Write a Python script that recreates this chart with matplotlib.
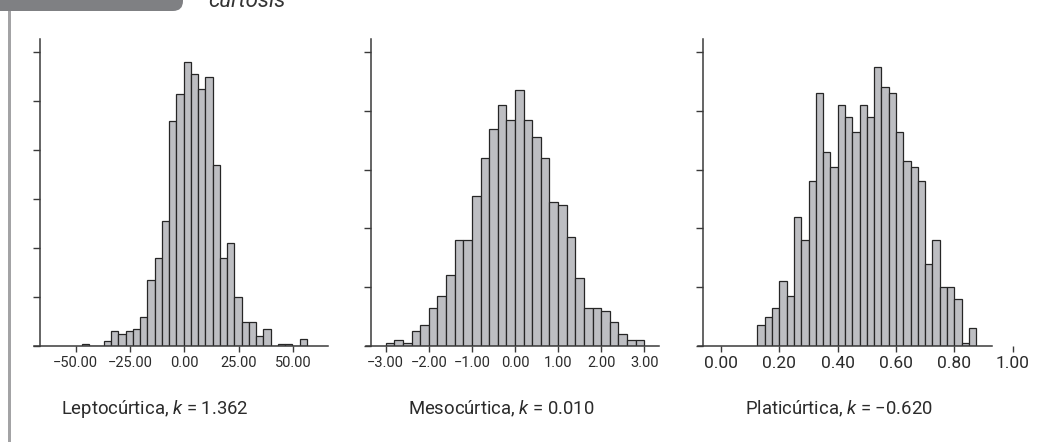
import matplotlib
matplotlib.use('Agg')
import matplotlib.pyplot as plt
from matplotlib.patches import FancyBboxPatch, Rectangle

plt.rcParams['font.family'] = ['Roboto', 'DejaVu Sans']
plt.rcParams['mathtext.fontset'] = 'custom'
plt.rcParams['mathtext.rm'] = 'Roboto'
plt.rcParams['mathtext.it'] = 'Roboto:italic'

# frecuencias
lepto_inicio = -47.1
lepto_ancho = 3.34
lepto_frec = [1, 0, 0, 2, 6, 5, 6, 7, 12, 27, 36, 51, 92, 103, 116, 111, 105, 110,
              74, 36, 42, 20, 10, 10, 4, 7, 0, 1, 1, 0, 3]

meso_inicio = -3.0
meso_ancho = 0.2
meso_frec = [1, 2, 1, 5, 7, 13, 17, 24, 36, 36, 51, 64, 74, 82, 77, 87, 77, 71,
             64, 49, 48, 37, 23, 13, 13, 12, 8, 4, 2, 2]

plati_inicio = 0.125
plati_ancho = 0.025
plati_frec = [7, 10, 13, 22, 17, 44, 36, 56, 86, 66, 61, 82, 78, 73, 82, 78, 95, 88,
              86, 73, 63, 61, 56, 28, 36, 20, 20, 16, 1, 6]

lepto_ticks = [-50, -25, 0, 25, 50]
meso_ticks = [-3, -2, -1, 0, 1, 2, 3]
plati_ticks = [0.0, 0.2, 0.4, 0.6, 0.8, 1.0]

titulos = ['Leptocúrtica, $k$ = 1.362', 'Mesocúrtica, $k$ = 0.010',
           'Platicúrtica, $k$ = \u22120.620']

W, H = 1039, 442
fig = plt.figure(figsize=(W / 100, H / 100), dpi=100)
fig.patch.set_facecolor('white')

# (inicio, ancho, frec, ticks, ymax, ystep, izq px, der px, cero px, px por unidad, eje y px, fin eje x px, tamaño fuente)
paneles = [
    (lepto_inicio, lepto_ancho, lepto_frec, lepto_ticks, 125.2, 20, 34, 328, 184.33, 54.33 / 25, 40, 328, 10.5),
    (meso_inicio, meso_ancho, meso_frec, meso_ticks, 104.4, 20, 366, 659, 515, 43.1, 371, 659, 10.5),
    (plati_inicio, plati_ancho, plati_frec, plati_ticks, 104.4, 20, 698, 1036, 721, 291.67, 703.3, 991.7, 12.5),
]

gris = '#3a3a3a'
base_px = 346
top_px = 39.3

for (ini, ancho, frec, ticks, ymax, ystep, izq, der, cero, ppu, ejey, finx, fs) in paneles:
    ax = fig.add_axes([izq / W, (H - base_px) / H, (der - izq) / W, (base_px - top_px) / H])
    lefts = [ini + i * ancho for i in range(len(frec))]
    ax.bar(lefts, frec, width=ancho, align='edge', color='#bdbec2',
           edgecolor='#262626', linewidth=0.9)
    x0 = (izq - cero) / ppu
    x1 = (der - cero) / ppu
    ax.set_xlim(x0, x1)
    ax.set_ylim(0, ymax)
    ax.spines['top'].set_visible(False)
    ax.spines['right'].set_visible(False)
    ax.spines['left'].set_position(('data', (ejey - cero) / ppu))
    ax.spines['bottom'].set_bounds(x0, (finx - cero) / ppu)
    for s in ('left', 'bottom'):
        ax.spines[s].set_color(gris)
        ax.spines[s].set_linewidth(1.1)
    ax.set_yticks(range(0, int(ymax) + 1, ystep))
    ax.set_yticklabels([])
    ax.set_xticks(ticks)
    ax.set_xticklabels([f'{t:.2f}'.replace('-', '\u2212') for t in ticks])
    ax.tick_params(axis='y', direction='out', length=5, width=1, color=gris)
    ax.tick_params(axis='x', direction='out', length=4, width=1, color=gris,
                   labelsize=fs, labelcolor='#2b2b2b', pad=3)
    ax.patch.set_alpha(0)

# titulos bajo cada histograma
for x, t in zip([60.7, 408, 745], titulos):
    fig.text(x / W, 1 - 414 / H, t, fontsize=13.3, ha='left', va='baseline', color='#2b2b2b')

# pestaña gris y linea vertical del encabezado
fig.patches.append(FancyBboxPatch((-20, H - 11), 203, 40,
                                  boxstyle='round,pad=0,rounding_size=10',
                                  facecolor='#7f8083', edgecolor='none', transform=None))
fig.patches.append(Rectangle((8, 0), 3, H - 11, facecolor='#a3a3a5',
                             edgecolor='none', transform=None))
fig.text(208 / W, 1 - 7 / H, 'curtosis', fontsize=16, style='italic',
         ha='left', va='baseline', color='#333333')

fig.savefig('out.png', dpi=100)
